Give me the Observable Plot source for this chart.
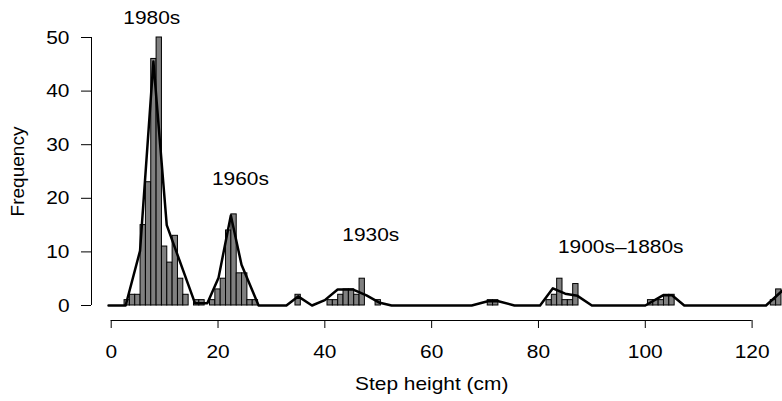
<!DOCTYPE html>
<html>
<head>
<meta charset="utf-8">
<script src="https://cdn.jsdelivr.net/npm/d3@7"></script>
<script src="https://cdn.jsdelivr.net/npm/@observablehq/plot@0.6"></script>
<style>
  body { margin: 0; background: #fff; }
  #chart svg { display: block; max-width: none; }
</style>
</head>
<body>
<div id="chart"></div>
<script>
// Step heights (cm) and how many steps were measured at each height
const stepHeights = [3, 4, 5, 6, 7, 8, 9, 10, 11, 12, 13, 14, 16, 17,
  19, 20, 21, 22, 23, 24, 25, 26, 27, 35,
  41, 42, 43, 44, 45, 46, 47, 50, 71, 72,
  82, 83, 84, 85, 86, 87, 101, 102, 103, 104, 105, 124, 125];
const stepCounts = [1, 2, 2, 15, 23, 46, 50, 11, 8, 13, 5, 2, 1, 1,
  1, 3, 5, 14, 17, 6, 6, 1, 1, 2,
  1, 1, 2, 3, 3, 2, 5, 1, 1, 1,
  1, 2, 5, 1, 1, 4, 1, 1, 1, 2, 2, 1, 3];

// Smoothed frequency curve drawn over the histogram
const curveX = [-0.5, 2.7, 5.4, 7.9, 10.4, 15.7, 18, 20.1, 22.4, 24.4, 27.6,
  32.8, 35, 37.6, 40, 42.4, 45.2, 47.8, 50.3, 52.5,
  67.5, 70.5, 72.5, 75.5, 80.3, 82.7, 85, 87.3, 90,
  100, 103.3, 105, 107.3, 122.6, 125.7];
const curveY = [0, 0, 10.2, 45.5, 15, 0.4, 0.4, 5.2, 16.8, 7.6, 0,
  0, 1.7, 0, 1, 3, 3, 1.9, 0.5, 0,
  0, 0.8, 0.8, 0, 0, 3.2, 2.2, 1.8, 0,
  0, 1.9, 1.9, 0, 0, 2.8];

// Construction periods written over each cluster
const periodNames = ["1980s", "1960s", "1930s", "1900s–1880s"];
const periodX = [7.6, 24.2, 48.6, 95.4];
const periodY = [53.6, 23.7, 13.2, 10.9];

const xTicks = [0, 20, 40, 60, 80, 100, 120];
const yTicks = [0, 10, 20, 30, 40, 50];

const bars = stepHeights.map((h, i) => ({h, n: stepCounts[i]}));
const curve = curveX.map((x, i) => ({x, y: curveY[i]}));
const labels = periodNames.map((name, i) => ({name, x: periodX[i], y: periodY[i]}));

const font = "'Liberation Sans', Arial, Helvetica, sans-serif";

const chart = Plot.plot({
  width: 782,
  height: 401,
  marginLeft: 91,
  marginRight: 0,
  marginTop: 37,
  marginBottom: 81,
  x: {domain: [0, 120], range: [110.7, 751.6]},
  y: {domain: [0, 50], range: [305, 37]},
  style: {fontFamily: font, fontSize: "19px", color: "black", background: "white"},
  marks: [
    Plot.rectY(bars, {
      x1: d => d.h - 0.5, x2: d => d.h + 0.5, y: "n",
      fill: "#808080", stroke: "black", strokeWidth: 1
    }),
    Plot.line(curve, {x: "x", y: "y", stroke: "black", strokeWidth: 2.5, strokeLinejoin: "round"}),
    // detached axis lines
    Plot.ruleY([0], {x1: 0, x2: 120, dy: 15, stroke: "black", strokeWidth: 1}),
    Plot.ruleX([0], {y1: 0, y2: 50, dx: -19.7, stroke: "black", strokeWidth: 1}),
    Plot.axisX({ticks: xTicks, tickSize: 8, tickPadding: 16, label: null, fontSize: 19}),
    Plot.axisY({ticks: yTicks, tickSize: 10, tickPadding: 12, label: null, fontSize: 19}),
    Plot.text(labels, {x: "x", y: "y", text: "name", fontSize: 19, fill: "black"}),
    Plot.text(["Step height (cm)"], {
      frameAnchor: "bottom", textAnchor: "middle", lineAnchor: "middle",
      dx: -5.3, dy: 63, fontSize: 19, fill: "black"
    }),
    Plot.text(["Frequency"], {
      frameAnchor: "left", textAnchor: "middle", lineAnchor: "middle", rotate: -90,
      dx: -74, dy: -7.5, fontSize: 19, fill: "black"
    })
  ]
});

document.getElementById("chart").append(chart);

// widen horizontal lettering slightly, as in the printed figure
chart.querySelectorAll("text").forEach(t => {
  const rotated = (t.getAttribute("transform") || "").includes("rotate") ||
    t.closest("[transform*='rotate']");
  if (rotated) return;
  const w = t.getComputedTextLength();
  if (w > 0) {
    t.setAttribute("textLength", (w * 1.1).toFixed(2));
    t.setAttribute("lengthAdjust", "spacingAndGlyphs");
  }
});
</script>
</body>
</html>
